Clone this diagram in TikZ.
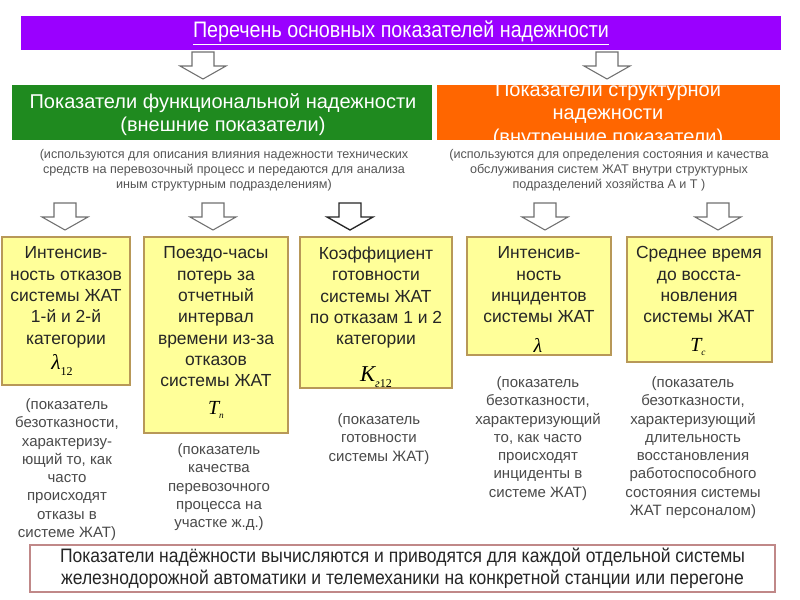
\documentclass[tikz,border=0pt]{standalone}
\usepackage{fontspec}
\setmainfont{Liberation Sans}
\newfontfamily\narrowfont[FakeStretch=0.88]{Liberation Sans}
\newfontfamily\bottomfont[FakeStretch=0.9]{Liberation Sans}
\newfontfamily\seriffont{Liberation Serif}
\definecolor{purplebar}{HTML}{9A00FF}
\definecolor{greenbar}{HTML}{1F8A1F}
\definecolor{orangebar}{HTML}{FF6600}
\definecolor{boxfill}{HTML}{FFFF99}
\definecolor{boxborder}{HTML}{B89858}
\definecolor{notegray}{HTML}{4A4A4A}
\definecolor{descgray}{HTML}{555555}
\definecolor{arrowgray}{HTML}{707070}
\definecolor{bottomborder}{HTML}{C08888}
\newcommand{\symT}[1]{{\seriffont\itshape T}\raisebox{-0.4ex}{\fontsize{7pt}{7pt}\selectfont\seriffont\itshape #1}}
\begin{document}
\begin{tikzpicture}[x=0.75pt,y=-0.75pt,
  yellowbox/.style={draw=boxborder, fill=boxfill, line width=1.1pt, inner sep=0pt},
  boxtext/.style={font=\fontsize{13.1pt}{16pt}\selectfont, align=center, inner sep=0pt, text=black!85, anchor=north},
  notetext/.style={font=\fontsize{11.25pt}{13.7pt}\selectfont, align=center, inner sep=0pt, text=notegray, anchor=north},
  desctext/.style={font=\fontsize{9.45pt}{11.25pt}\selectfont, align=center, inner sep=0pt, text=descgray, anchor=north},
  hdrtext/.style={font=\fontsize{15pt}{17.5pt}\selectfont, align=center, inner sep=0pt, text=white, anchor=north},
  symtext/.style={font=\fontsize{15pt}{15pt}\selectfont, inner sep=0pt, text=black},
  hollowarrow/.style={draw=arrowgray, fill=white, line width=0.8pt},
  boldarrow/.style={draw=black!85, fill=white, line width=1.0pt},
  downarrow/.pic={\draw[pic actions] (-11,0) -- (11,0) -- (11,14) -- (23,14) -- (0,27) -- (-23,14) -- (-11,14) -- cycle;}
]
\useasboundingbox (0,0) rectangle (800,600);
\fill[white] (0,0) rectangle (800,600);

% top bar
\node[fill=purplebar, minimum width=570pt, minimum height=25.5pt, inner sep=0pt,
      text=white, font=\narrowfont\fontsize{16.8pt}{16.8pt}\selectfont] (top) at (401,33)
      {\underline{Перечень основных показателей надежности}};

% top arrows
\pic[hollowarrow] at (203,52) {downarrow};
\pic[hollowarrow] at (607,52) {downarrow};

% headers
\node[fill=greenbar, minimum width=315pt, minimum height=41.25pt, inner sep=0pt] (green) at (222,112.5) {};
\node[hdrtext] (greent) at (223,93.4) {Показатели функциональной надежности\\(внешние показатели)};
\node[fill=orangebar, minimum width=257.25pt, minimum height=41.25pt, inner sep=0pt] (orange) at (608.5,112.5) {};
\begin{scope}
  \clip (437,85) rectangle (780,140);
  \node[hdrtext] (oranget) at (608,81.4) {Показатели структурной\\надежности\\(внутренние показатели)};
\end{scope}

% descriptions
\node[desctext] (descl) at (224,148.6) {(используются для описания влияния надежности технических\\средств на перевозочный процесс и передаются для анализа\\иным структурным подразделениям)};
\node[desctext] (descr) at (609,148.6) {(используются для определения состояния и качества\\обслуживания систем ЖАТ внутри структурных\\подразделений хозяйства А и Т )};

% second row arrows
\pic[hollowarrow] at (65,203) {downarrow};
\pic[hollowarrow] at (213,203) {downarrow};
\pic[boldarrow] at (350,203) {downarrow};
\pic[hollowarrow] at (545,203) {downarrow};
\pic[hollowarrow] at (718,203) {downarrow};

% yellow boxes
\node[yellowbox, minimum width=96pt, minimum height=111pt] (b1) at (66,311) {};
\node[yellowbox, minimum width=108pt, minimum height=147pt] (b2) at (216,335) {};
\node[yellowbox, minimum width=114pt, minimum height=113.25pt] (b3) at (376,312.5) {};
\node[yellowbox, minimum width=108pt, minimum height=88.5pt] (b4) at (539,296) {};
\node[yellowbox, minimum width=108.75pt, minimum height=93.75pt] (b5) at (699.5,299.5) {};

\node[boxtext] (t1) at (66,246.5) {Интенсив-\\ность отказов\\системы ЖАТ\\1-й и 2-й\\категории};
\node[boxtext] (t2) at (216,246.5) {Поездо-часы\\потерь за\\отчетный\\интервал\\времени из-за\\отказов\\системы ЖАТ};
\node[boxtext] (t3) at (376,246.5) {Коэффициент\\готовности\\системы ЖАТ\\по отказам 1 и 2\\категории};
\node[boxtext] (t4) at (539,246.5) {Интенсив-\\ность\\инцидентов\\системы ЖАТ};
\node[boxtext] (t5) at (699,246.5) {Среднее время\\до восста-\\новления\\системы ЖАТ};

% symbols
\node[symtext, font=\fontsize{16pt}{16pt}\selectfont] (s1) at (62,365) {{\seriffont\itshape λ}\raisebox{-0.5ex}{\fontsize{9pt}{9pt}\selectfont\seriffont 12}};
\node[symtext] (s2) at (216,410) {\symT{п}};
\node[symtext, font=\fontsize{17pt}{17pt}\selectfont] (s3) at (376,377) {{\seriffont\itshape K}\raisebox{-0.5ex}{\fontsize{9pt}{9pt}\selectfont\seriffont\itshape г\upshape 12}};
\node[symtext] (s4) at (538,345) {{\seriffont\itshape λ}};
\node[symtext] (s5) at (698,347) {\symT{с}};

% notes
\node[notetext] (n1) at (67,398.5) {(показатель\\безотказности,\\характеризу-\\ющий то, как\\часто\\происходят\\отказы в\\системе ЖАТ)};
\node[notetext] (n2) at (219,443.5) {(показатель\\качества\\перевозочного\\процесса на\\участке ж.д.)};
\node[notetext] (n3) at (379,413.5) {(показатель\\готовности\\системы ЖАТ)};
\node[notetext] (n4) at (538,376.5) {(показатель\\безотказности,\\характеризующий\\то, как часто\\происходят\\инциденты в\\системе ЖАТ)};
\node[notetext] (n5) at (693,376.5) {(показатель\\безотказности,\\характеризующий\\длительность\\восстановления\\работоспособного\\состояния системы\\ЖАТ персоналом)};

% bottom box
\node[draw=bottomborder, fill=white, line width=0.9pt, minimum width=558.75pt, minimum height=35.25pt, inner sep=0pt,
      align=center, text=black!85, font=\bottomfont\fontsize{14.6pt}{16.5pt}\selectfont] (bottom) at (402.5,568.5)
      {Показатели надёжности вычисляются и приводятся для каждой отдельной системы\\железнодорожной автоматики и телемеханики на конкретной станции или перегоне};
\end{tikzpicture}
\end{document}
